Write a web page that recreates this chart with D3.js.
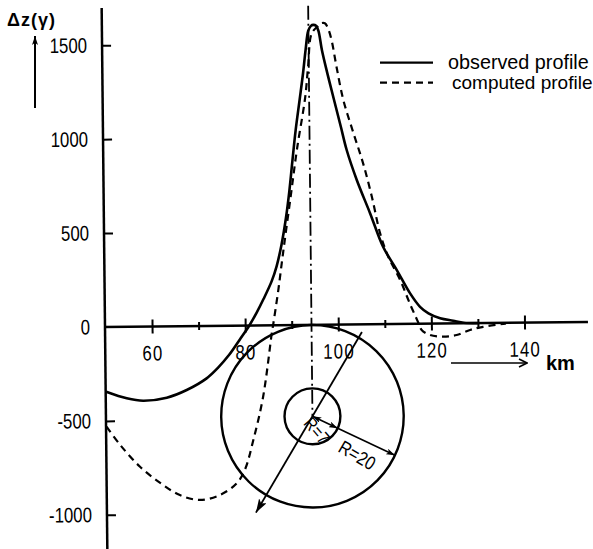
<!DOCTYPE html>
<html><head><meta charset="utf-8">
<script src="https://cdn.jsdelivr.net/npm/d3@7"></script>
<style>
html,body{margin:0;padding:0;background:#fff;}
svg{display:block;}
</style></head><body>
<svg id="c" width="593" height="549"></svg>
<script>
// ---------- data ----------
const observedKm  = [50, 54.4, 57.9, 63, 67.3, 71.6, 74.0, 76.5, 78.8, 80.9, 82.5, 84.0, 85.8, 86.9, 88.0, 89.0, 89.8, 90.5, 91.3, 92.2, 93.0, 93.6, 94.2, 94.8, 95.3, 95.9, 96.4, 97.1, 98.3, 99.6, 101.0, 102.2, 104.3, 107.1, 109.8, 112.7, 115.5, 117.6, 119.4, 121.9, 124.7, 127, 130];
const observedVal = [-345, -381, -395, -380, -340, -279, -225, -155, -75, 0, 68, 140, 235, 315, 430, 570, 715, 870, 1040, 1198, 1340, 1464, 1565, 1592, 1597, 1592, 1565, 1463, 1330, 1196, 1053, 929, 769, 590, 412, 287, 162, 90, 55, 28, 14, 3, 0];
const computedKm  = [50, 52.9, 57.1, 61.4, 65.6, 69.9, 74.2, 77.8, 79.6, 81.5, 83.7, 85.7, 86.0, 87.2, 88.0, 88.7, 90.1, 91.5, 93.4, 94.1, 94.95, 96.3, 97.0, 97.8, 98.5, 99.2, 100.2, 101.6, 103.7, 105.7, 107.5, 109.2, 110.9, 113.4, 115.4, 117.3, 117.9, 119.7, 122.5, 125.4, 128.3, 131.1, 135.4, 136];
const computedVal = [-531, -629, -746, -833, -899, -926, -901, -840, -769, -610, -380, -43, 0, 187, 330, 453, 690, 932, 1210, 1375, 1552, 1590, 1605, 1605, 1575, 1515, 1373, 1195, 1018, 857, 679, 483, 358, 234, 109, 0, -34, -61, -70, -62, -36, -20, -6, -5];
const xTickValues = [60, 70, 80, 90, 100, 110, 120, 130, 140];
const xTickLabels = ["60", "", "80", "", "100", "", "120", "", "140"];
const yTickValues = [-1000, -500, 0, 500, 1000, 1500];
const yTickLabels = ["-1000", "-500", "0", "500", "1000", "1500"];
const seriesNames = ["observed profile", "computed profile"];
const sourceKm = 94.25, sourceVal = -487;      // centre of the body
const radiiKm = [6.0, 19.6];
const radiusLabels = ["R=7", "R=20"];
const yLabel = "\u0394z(\u03b3)";
const xLabel = "km";

// ---------- setup ----------
const svg = d3.select("#c");
const SANS = "'Liberation Sans',Arial,sans-serif";
const NX = 0.8; // horizontal squeeze for the narrow lettering
const x = d3.scaleLinear().domain([50, 140]).range([105.5, 524.5]);
const y = d3.scaleLinear().domain([0, 1500]).range([327, 45.3]);
const kmPx = x(51) - x(50);

const defs = svg.append("defs");
function marker(id, len, wid) {
  defs.append("marker").attr("id", id)
    .attr("markerUnits", "userSpaceOnUse")
    .attr("viewBox", `0 0 ${len} ${wid}`)
    .attr("refX", len).attr("refY", wid / 2)
    .attr("markerWidth", len).attr("markerHeight", wid)
    .attr("orient", "auto-start-reverse")
    .append("path").attr("d", `M0,0 L${len},${wid / 2} L0,${wid} L${len * 0.25},${wid / 2} Z`).attr("fill", "#000");
}
marker("big", 14, 9);
marker("small", 9, 6);
defs.append("marker").attr("id", "open")
  .attr("markerUnits", "userSpaceOnUse").attr("viewBox", "0 0 10 10")
  .attr("refX", 9).attr("refY", 5).attr("markerWidth", 10).attr("markerHeight", 10)
  .attr("orient", "auto")
  .append("path").attr("d", "M1,1 L9,5 L1,9").attr("fill", "none").attr("stroke", "#000").attr("stroke-width", 1.6);

// the scanned figure is slightly rotated
const g = svg.append("g").attr("transform", "rotate(-0.6,105,327)");

// ---------- axes ----------
const yAxis = d3.axisLeft(y).tickValues(yTickValues)
  .tickFormat((d, i) => yTickLabels[i]).tickSizeInner(-9).tickSizeOuter(0).tickPadding(15);
const gy = g.append("g").attr("transform", "translate(105,0)").call(yAxis);
gy.select(".domain").remove();
gy.selectAll(".tick line").attr("stroke", "#000").attr("stroke-width", 2).filter(d => d === 0).remove();
gy.selectAll(".tick text").attr("x", -15 / NX).attr("transform", `scale(${NX},1)`)
  .attr("font-family", SANS).attr("font-size", 21).attr("fill", "#000");
g.append("line").attr("x1", 105).attr("x2", 105).attr("y1", 8).attr("y2", 560)
  .attr("stroke", "#000").attr("stroke-width", 2.5);

const xAxis = d3.axisBottom(x).tickValues(xTickValues)
  .tickFormat((d, i) => xTickLabels[i]).tickSizeInner(7).tickSizeOuter(0);
const gx = g.append("g").attr("transform", `translate(0,${y(0)})`).call(xAxis);
gx.select(".domain").remove();
gx.selectAll(".tick line").attr("stroke", "#000").attr("stroke-width", 2)
  .attr("y1", (d, i) => xTickLabels[i] ? -7 : -4).attr("y2", (d, i) => xTickLabels[i] ? 7 : 4);
gx.selectAll(".tick text").attr("y", 34).attr("dy", 0).attr("transform", `scale(${NX},1)`)
  .attr("font-family", SANS).attr("font-size", 21).attr("fill", "#000").attr("letter-spacing", 1.5);
g.append("line").attr("x1", 104).attr("x2", 588).attr("y1", y(0)).attr("y2", y(0))
  .attr("stroke", "#000").attr("stroke-width", 2.5);

// ---------- dash-dot centre line ----------
g.append("line").attr("x1", x(sourceKm)).attr("x2", x(sourceKm)).attr("y1", 8).attr("y2", y(sourceVal))
  .attr("stroke", "#000").attr("stroke-width", 1.8).attr("stroke-dasharray", "14,4,2,4");

// ---------- curves ----------
const line = d3.line().x(d => x(d[0])).y(d => y(d[1])).curve(d3.curveCatmullRom.alpha(0.5));
g.append("path").datum(observedKm.map((k, i) => [k, observedVal[i]]))
  .attr("d", line).attr("fill", "none").attr("stroke", "#000").attr("stroke-width", 2.6);
g.append("path").datum(computedKm.map((k, i) => [k, computedVal[i]]))
  .attr("d", line).attr("fill", "none").attr("stroke", "#000").attr("stroke-width", 2.2)
  .attr("stroke-dasharray", "7,5");

// ---------- body circles ----------
const cx = x(sourceKm), cy = y(sourceVal);
radiiKm.forEach(r => {
  g.append("circle").attr("cx", cx).attr("cy", cy).attr("r", r * kmPx)
    .attr("fill", "none").attr("stroke", "#000").attr("stroke-width", 2.4);
});
// long arrow through the centre
const aAng = -59 * Math.PI / 180;
const aUp = 21 * kmPx, aDn = 24 * kmPx;
g.append("line")
  .attr("x1", cx + aUp * Math.cos(aAng)).attr("y1", cy + aUp * Math.sin(aAng))
  .attr("x2", cx - aDn * Math.cos(aAng)).attr("y2", cy - aDn * Math.sin(aAng))
  .attr("stroke", "#000").attr("stroke-width", 1.8).attr("marker-end", "url(#big)");
// radius line
const rAng = 25.9 * Math.PI / 180;
const c = Math.cos(rAng), s = Math.sin(rAng);
const r0 = radiiKm[0] * kmPx, r1 = radiiKm[1] * kmPx;
g.append("line").attr("x1", cx).attr("y1", cy).attr("x2", cx + r0 * c).attr("y2", cy + r0 * s)
  .attr("stroke", "#000").attr("stroke-width", 1.6)
  .attr("marker-start", "url(#small)").attr("marker-end", "url(#small)");
g.append("line").attr("x1", cx + r0 * c).attr("y1", cy + r0 * s).attr("x2", cx + r1 * c).attr("y2", cy + r1 * s)
  .attr("stroke", "#000").attr("stroke-width", 1.6).attr("marker-end", "url(#small)");
// radius labels
const lab = [{along: 10, perp: 11, rot: 50, fs: 18}, {along: 57, perp: 16, rot: 31, fs: 19}];
radiusLabels.forEach((t, i) => {
  const px = cx + lab[i].along * c - lab[i].perp * s;
  const py = cy + lab[i].along * s + lab[i].perp * c;
  g.append("text").attr("transform", `translate(${px},${py}) rotate(${lab[i].rot}) scale(0.85,1)`)
    .attr("text-anchor", "middle").attr("dy", "0.35em")
    .attr("font-family", SANS).attr("font-size", lab[i].fs).attr("fill", "#000").text(t);
});

// ---------- labels ----------
svg.append("text").attr("x", 7).attr("y", 26).attr("font-family", SANS).attr("font-weight", "bold")
  .attr("font-size", 18).attr("letter-spacing", 1).attr("fill", "#000").text(yLabel);
svg.append("line").attr("x1", 35).attr("x2", 35).attr("y1", 108).attr("y2", 36)
  .attr("stroke", "#000").attr("stroke-width", 2).attr("marker-end", "url(#small)");
svg.append("line").attr("x1", 451).attr("x2", 527).attr("y1", 363).attr("y2", 363)
  .attr("stroke", "#000").attr("stroke-width", 1.6).attr("marker-end", "url(#open)");
svg.append("text").attr("x", 546).attr("y", 370).attr("font-family", SANS).attr("font-weight", "bold")
  .attr("font-size", 20).attr("fill", "#000").text(xLabel);

// ---------- legend ----------
const legY = [62.7, 82.7];
const legTx = [448, 452];
const legTy = [68.5, 89];
const legFs = [19.8, 19];
seriesNames.forEach((n, i) => {
  svg.append("line").attr("x1", 380).attr("x2", 433).attr("y1", legY[i]).attr("y2", legY[i])
    .attr("stroke", "#000").attr("stroke-width", 2.2).attr("stroke-dasharray", i ? "7,5" : null);
  svg.append("text").attr("x", legTx[i]).attr("y", legTy[i]).attr("font-family", SANS)
    .attr("font-size", legFs[i]).attr("fill", "#000").text(n);
});
</script>
</body></html>
